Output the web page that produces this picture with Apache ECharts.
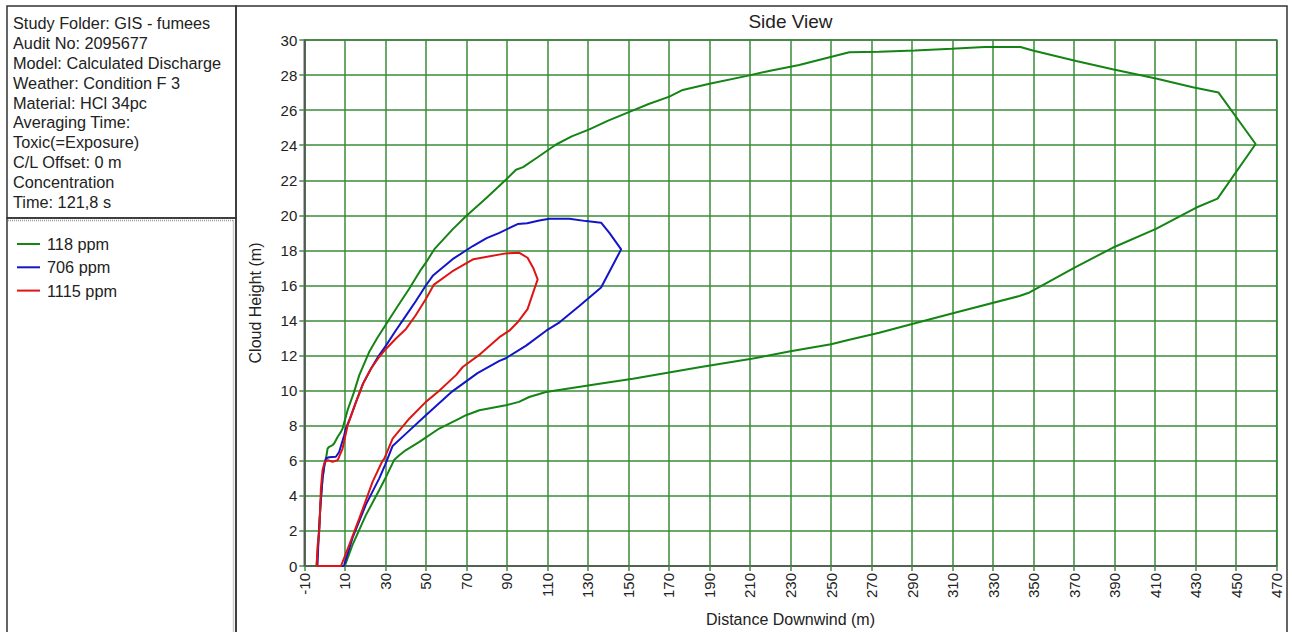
<!DOCTYPE html>
<html>
<head>
<meta charset="utf-8">
<script src="https://cdn.jsdelivr.net/npm/echarts@6/dist/echarts.min.js"></script>
<style>
html,body{margin:0;padding:0;background:#fff;}
#c{width:1292px;height:632px;}
</style>
</head>
<body>
<div id="c"></div>
<script>
// ---- data ----
const infoLines = [
  "Study Folder: GIS - fumees",
  "Audit No: 2095677",
  "Model: Calculated Discharge",
  "Weather: Condition F 3",
  "Material: HCl 34pc",
  "Averaging Time:",
  "Toxic(=Exposure)",
  "C/L Offset: 0 m",
  "Concentration",
  "Time: 121,8 s"
];
const seriesNames = ["118 ppm", "706 ppm", "1115 ppm"];
const chartTitle = "Side View";
const xAxisTitle = "Distance Downwind (m)";
const yAxisTitle = "Cloud Height (m)";
const xRange = [-10, 470, 20];
const yRange = [0, 30, 2];

const green118 = [
  [-4,0],[-3,1.5],[-2,3.5],[-1,5],[-0.1,5.75],[0.7,6.13],[1.5,6.7],[2.3,6.8],[4,6.9],[4.8,7.0],
  [6.5,7.37],[8.1,7.65],[8.9,7.84],[11.4,8.9],[14.5,9.9],[17.1,10.87],[22,12.2],[26,13.0],[31,13.9],
  [36,14.8],[41.7,15.8],[47,16.8],[50,17.3],[54.2,18.07],[63.2,19.2],[69.8,19.95],[80,21.0],
  [89.5,22.03],[94.5,22.6],[98,22.75],[105,23.3],[114.3,24.04],[122,24.5],[130.7,24.9],[140,25.4],
  [150.5,25.9],[160,26.35],[170.2,26.77],[176.8,27.15],[190,27.5],[208,27.94],[220,28.25],
  [234.3,28.57],[259,29.3],[273.8,29.33],[291.4,29.4],[309.5,29.5],[325.8,29.6],[343.5,29.6],
  [349.6,29.4],[371,28.8],[389,28.33],[410.4,27.8],[428.6,27.3],[441.3,27.0],[459.6,24.07],
  [440.8,20.95],[430.1,20.43],[410.4,19.23],[389,18.15],[370,17.0],[348,15.6],[343,15.4],
  [313,14.5],[290,13.8],[273.8,13.3],[259,12.9],[250,12.65],[230,12.25],[210,11.8],[185,11.34],
  [152.2,10.68],[135.7,10.4],[109.3,9.92],[101,9.64],[96,9.36],[89.5,9.17],[76.4,8.88],[69.8,8.6],
  [66.5,8.4],[56.6,7.84],[46.8,7.08],[40,6.6],[36.9,6.32],[34.3,6.04],[30,5.0],[27,4.33],
  [20.4,2.9],[13.8,1.2],[10,0],[-4,0]
];
const blue706 = [
  [-3.5,0],[-3,1.5],[-2,3.5],[-1,5],[0,5.8],[0.7,6.15],[2.3,6.2],[5.6,6.23],[7.2,6.5],[9.7,7.46],
  [10.5,7.84],[12.5,8.4],[15.5,9.35],[19,10.4],[22.9,11.25],[26.5,11.95],[30.3,12.57],[35,13.4],
  [40.2,14.28],[45,15.1],[50,16.0],[53.4,16.55],[63.2,17.5],[73.2,18.25],[80,18.7],[86.3,19.0],
  [95.3,19.5],[100,19.55],[106,19.7],[111,19.8],[120.9,19.8],[129.1,19.67],[136.5,19.58],
  [140.6,19.0],[146.4,18.06],[136.5,15.88],[125.9,14.84],[116,13.9],[109.4,13.42],[99.5,12.57],
  [89.5,11.85],[86.3,11.7],[75.5,11.0],[62.4,9.9],[50,8.6],[40.2,7.55],[33.6,6.85],[30,5.8],
  [27,5.0],[20.4,3.5],[13.8,1.6],[9.7,0.07],[9.5,0],[-3.5,0]
];
const red1115 = [
  [-3.9,0],[-3.4,1.2],[-2.6,1.97],[-2.2,3.2],[-1.8,4.43],[-1,5.47],[0,5.9],[1.5,6.04],[4,5.95],
  [6.5,6.04],[8.9,6.7],[11.4,8.02],[15.5,9.35],[19,10.4],[22.9,11.25],[26.5,11.85],[30.3,12.38],
  [35,12.95],[40.2,13.52],[45,14.3],[50,15.23],[54,16.05],[63,16.8],[73.5,17.5],[89.5,17.83],
  [96,17.87],[100.2,17.58],[103,17.0],[105.2,16.35],[103.5,15.78],[100.2,14.65],[95.3,13.9],
  [91.2,13.42],[86.3,13.05],[77,12.1],[68.2,11.35],[65,10.9],[56.6,10.0],[50,9.36],[41.8,8.4],
  [33.6,7.27],[29.5,6.13],[28.6,6.0],[23.7,4.8],[17.1,2.7],[12.2,1.2],[8.1,0],[-3.9,0]
];
const seriesData = [green118, blue706, red1115];
const seriesColors = ["#158415", "#1414c8", "#e01414"];

// ---- chart ----
const chart = echarts.init(document.getElementById('c'), null, {renderer: 'svg'});
const FONT = '"Liberation Sans", Arial, sans-serif';

const graphics = [
  {type:'rect', shape:{x:7, y:6, width:229, height:212}, style:{fill:'none', stroke:'#333', lineWidth:1.5}, z:0},
  {type:'rect', shape:{x:7, y:218, width:229, height:430}, style:{fill:'none', stroke:'#333', lineWidth:1.5}, z:0},
  {type:'line', shape:{x1:8, y1:220.5, x2:233.5, y2:220.5}, style:{stroke:'#999', lineWidth:1.5, lineDash:[1,1]}, z:0},
  {type:'line', shape:{x1:233.5, y1:220.5, x2:233.5, y2:640}, style:{stroke:'#999', lineWidth:1.5, lineDash:[1,1]}, z:0},
  {type:'rect', shape:{x:236, y:6, width:1051, height:640}, style:{fill:'none', stroke:'#333', lineWidth:1.5}, z:0},
  {type:'text', x:790.5, y:21.7, style:{text:chartTitle, font:'19px ' + FONT, fill:'#222', align:'center', verticalAlign:'middle'}}
];
infoLines.forEach((t, i) => {
  graphics.push({type:'text', x:13, y:23.3 + i*19.8,
    style:{text:t, font:'16.3px ' + FONT, fill:'#222', align:'left', verticalAlign:'middle'}});
});

chart.setOption({
  animation: false,
  textStyle: {fontFamily: FONT},
  graphic: graphics,
  legend: {
    orient: 'vertical', left: 12, top: 231,
    icon: 'rect', itemWidth: 23, itemHeight: 2, itemGap: 7.3,
    textStyle: {fontSize: 16.3, color: '#222', lineHeight: 16, fontFamily: FONT, padding:[0,0,0,2]},
    data: seriesNames
  },
  grid: {left: 304.3, right: 15.3, top: 40, bottom: 63.7, show: true, borderColor: '#555', borderWidth: 1.5, containLabel: false},
  xAxis: {
    type: 'value', min: xRange[0], max: xRange[1], interval: xRange[2],
    name: xAxisTitle, nameLocation: 'middle', nameGap: 45,
    nameTextStyle: {fontSize: 16, color: '#222', fontFamily: FONT},
    axisLine: {show: true, onZero: false, lineStyle: {color: '#555', width: 1.5}},
    axisTick: {show: true, length: 5, lineStyle: {color: '#4a8a4a', width: 1.5}},
    axisLabel: {rotate: 90, margin: 7, fontSize: 15, color: '#222', fontFamily: FONT},
    splitLine: {show: true, lineStyle: {color: '#3a8c3a', width: 1.5}}
  },
  yAxis: {
    type: 'value', min: yRange[0], max: yRange[1], interval: yRange[2],
    name: yAxisTitle, nameLocation: 'middle', nameGap: 41,
    nameTextStyle: {fontSize: 16, color: '#222', fontFamily: FONT},
    axisLine: {show: true, onZero: false, lineStyle: {color: '#555', width: 1.5}},
    axisTick: {show: true, length: 5, lineStyle: {color: '#4a8a4a', width: 1.5}},
    axisLabel: {margin: 7, fontSize: 15, color: '#222', fontFamily: FONT},
    splitLine: {show: true, lineStyle: {color: '#3a8c3a', width: 1.5}}
  },
  series: seriesNames.map((n, i) => ({
    name: n, type: 'line', data: seriesData[i], symbol: 'none', smooth: false,
    color: seriesColors[i],
    lineStyle: {color: seriesColors[i], width: 2},
    z: 10 + i
  }))
});
</script>
</body>
</html>
